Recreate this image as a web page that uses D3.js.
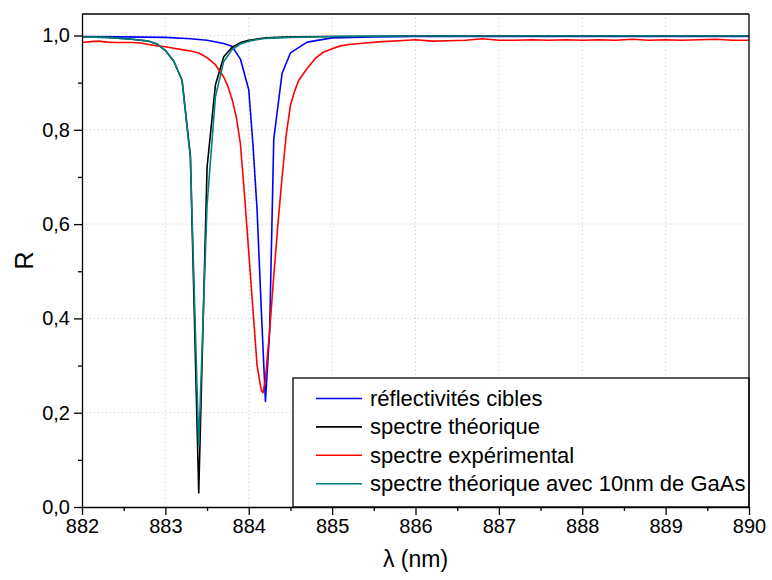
<!DOCTYPE html>
<html>
<head>
<meta charset="utf-8">
<script src="https://cdn.jsdelivr.net/npm/d3@7"></script>
<style>
  body { margin: 0; background: #fff; }
  svg { display: block; font-family: "Liberation Sans", Arial, sans-serif; }
  .grid line { stroke: #c8c8c8; stroke-width: 1; stroke-dasharray: 1,3; }
  .axis path, .axis line { stroke: #000; stroke-width: 1.3; }
  .axis text { font-size: 20px; fill: #000; }
</style>
</head>
<body>
<div id="chart"></div>
<script>
// --- data ---
const theoLam = [882.0, 882.3, 882.6, 882.8, 882.9, 883.0, 883.1, 883.2, 883.3, 883.4, 883.5, 883.6, 883.7, 883.8, 883.9, 884.0, 884.2, 884.5, 885.0, 886.0, 888.0, 890.0];
const theoR   = [0.997, 0.996, 0.992, 0.988, 0.982, 0.968, 0.946, 0.905, 0.745, 0.03, 0.72, 0.895, 0.955, 0.975, 0.985, 0.990, 0.995, 0.997, 0.998, 0.999, 0.999, 0.999];
const gaasR   = [0.997, 0.996, 0.992, 0.988, 0.982, 0.968, 0.946, 0.905, 0.740, 0.13, 0.64, 0.870, 0.945, 0.970, 0.982, 0.988, 0.994, 0.996, 0.998, 0.999, 0.999, 0.999];

const cibleLam = [882.0, 882.5, 883.0, 883.3, 883.5, 883.7, 883.8, 883.9, 884.0, 884.05, 884.1, 884.15, 884.2, 884.25, 884.3, 884.4, 884.5, 884.7, 885.0, 885.5, 886.0, 888.0, 890.0];
const cibleR   = [0.998, 0.997, 0.996, 0.993, 0.990, 0.983, 0.977, 0.950, 0.885, 0.77, 0.63, 0.42, 0.224, 0.37, 0.78, 0.92, 0.963, 0.986, 0.995, 0.997, 0.998, 0.998, 0.998];

const expLam = [882.0, 882.1, 882.2, 882.3, 882.4, 882.5, 882.6, 882.7, 882.8, 882.9, 883.0, 883.1, 883.2, 883.3, 883.4, 883.5, 883.6, 883.7, 883.75, 883.8, 883.85, 883.9, 883.95, 884.0, 884.05, 884.1, 884.15, 884.17, 884.2, 884.25, 884.3, 884.35, 884.4, 884.45, 884.5, 884.55, 884.6, 884.7, 884.8, 884.9, 885.0, 885.1, 885.2, 885.4, 885.6, 885.8, 886.0, 886.2, 886.4, 886.6, 886.8, 887.0, 887.2, 887.4, 887.6, 887.8, 888.0, 888.2, 888.4, 888.6, 888.8, 889.0, 889.2, 889.4, 889.6, 889.8, 890.0];
const expR   = [0.985, 0.987, 0.988, 0.986, 0.985, 0.985, 0.985, 0.984, 0.981, 0.978, 0.976, 0.973, 0.970, 0.967, 0.963, 0.953, 0.938, 0.912, 0.892, 0.865, 0.828, 0.77, 0.66, 0.54, 0.42, 0.30, 0.248, 0.242, 0.27, 0.373, 0.49, 0.60, 0.70, 0.79, 0.852, 0.882, 0.905, 0.930, 0.952, 0.965, 0.972, 0.978, 0.981, 0.984, 0.987, 0.989, 0.991, 0.988, 0.989, 0.990, 0.993, 0.990, 0.990, 0.991, 0.990, 0.991, 0.990, 0.991, 0.990, 0.992, 0.990, 0.991, 0.990, 0.991, 0.992, 0.990, 0.990];

const xTicks = [882, 883, 884, 885, 886, 887, 888, 889, 890];
const yTicks = [0, 0.2, 0.4, 0.6, 0.8, 1.0];

const series = [
    { name: "réflectivités cibles", color: "#0000ff", lam: cibleLam, r: cibleR },
    { name: "spectre théorique", color: "#000000", lam: theoLam, r: theoR },
    { name: "spectre expérimental", color: "#ff0000", lam: expLam, r: expR },
    { name: "spectre théorique avec 10nm de GaAs", color: "#008080", lam: theoLam, r: gaasR }
];

// --- layout ---
const W = 772, H = 580;
const margin = { top: 14, right: 23, bottom: 73, left: 82 };
const width = W - margin.left - margin.right;
const height = H - margin.top - margin.bottom;

const svg = d3.select("#chart").append("svg")
    .attr("width", W)
    .attr("height", H);

const g = svg.append("g")
    .attr("transform", `translate(${margin.left},${margin.top})`);

const x = d3.scaleLinear().domain([882, 890]).range([0, width]);
const y = d3.scaleLinear().domain([0, 1.0456]).range([height, 0]);

const fmt = v => d3.format(".1f")(v).replace(".", ",");

// dotted grid
g.append("g").attr("class", "grid")
    .selectAll("line")
    .data(xTicks.slice(1, -1))
    .join("line")
    .attr("x1", d => x(d)).attr("x2", d => x(d))
    .attr("y1", 0).attr("y2", height);

g.append("g").attr("class", "grid")
    .selectAll("line")
    .data(yTicks.slice(1))
    .join("line")
    .attr("x1", 0).attr("x2", width)
    .attr("y1", d => y(d)).attr("y2", d => y(d));

// curves
const line = d3.line()
    .x(d => x(d[0]))
    .y(d => y(d[1]));

series.forEach(s => {
    g.append("path")
        .datum(s.lam.map((l, i) => [l, s.r[i]]))
        .attr("fill", "none")
        .attr("stroke", s.color)
        .attr("stroke-width", 1.6)
        .attr("stroke-linejoin", "round")
        .attr("d", line);
});

// legend (box sits on the bottom axis, flush with the right frame)
const legend = g.append("g").attr("transform", `translate(${293 - margin.left},${378 - margin.top})`);
legend.append("rect")
    .attr("width", 749 - 293)
    .attr("height", height - (378 - margin.top))
    .attr("fill", "#fff")
    .attr("stroke", "#000")
    .attr("stroke-width", 1.3);

series.forEach((s, i) => {
    const ly = 20.5 + i * 28.4;
    legend.append("line")
        .attr("x1", 23).attr("x2", 69)
        .attr("y1", ly).attr("y2", ly)
        .attr("stroke", s.color)
        .attr("stroke-width", 1.6);
    legend.append("text")
        .attr("x", 77)
        .attr("y", ly + 7.5)
        .attr("font-size", "22px")
        .text(s.name);
});

// frame: top and right
g.append("line").attr("x1", 0).attr("x2", width).attr("y1", 0).attr("y2", 0)
    .attr("stroke", "#000").attr("stroke-width", 1.3);
g.append("line").attr("x1", width).attr("x2", width).attr("y1", 0).attr("y2", height)
    .attr("stroke", "#000").attr("stroke-width", 1.3);

// axes with major + minor ticks
g.append("g").attr("class", "axis")
    .attr("transform", `translate(0,${height})`)
    .call(d3.axisBottom(x).tickValues(d3.range(882.5, 890, 1)).tickSize(4).tickFormat(""))
    .call(a => a.select(".domain").remove());
g.append("g").attr("class", "axis")
    .attr("transform", `translate(0,${height})`)
    .call(d3.axisBottom(x).tickValues(xTicks).tickSize(8).tickSizeOuter(0).tickPadding(4).tickFormat(d3.format("d")));

g.append("g").attr("class", "axis")
    .call(d3.axisLeft(y).tickValues(d3.range(0.1, 1.01, 0.2)).tickSize(4).tickFormat(""))
    .call(a => a.select(".domain").remove());
g.append("g").attr("class", "axis")
    .call(d3.axisLeft(y).tickValues(yTicks).tickSize(8).tickSizeOuter(0).tickPadding(4).tickFormat(fmt));

// axis titles
svg.append("text")
    .attr("x", margin.left + width / 2)
    .attr("y", 567)
    .attr("text-anchor", "middle")
    .attr("font-size", "23px")
    .text("λ (nm)");

svg.append("text")
    .attr("transform", `translate(33,${margin.top + height / 2}) rotate(-90)`)
    .attr("text-anchor", "middle")
    .attr("font-size", "25px")
    .text("R");
</script>
</body>
</html>
